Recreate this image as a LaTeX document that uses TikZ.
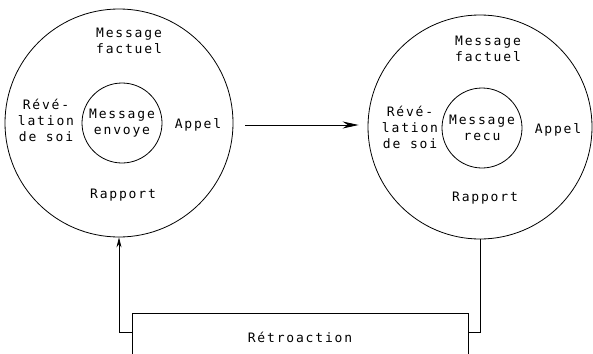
\documentclass[tikz,border=0pt]{standalone}
\usepackage{fontspec}
\setmainfont{DejaVu Sans Mono}[LetterSpace=14]
\usetikzlibrary{arrows.meta}

\begin{document}
\begin{tikzpicture}[x=1pt,y=-1pt,line width=0.8pt,
    txt/.style={font=\fontsize{13}{16}\selectfont,align=center,inner sep=0pt},
    ring/.style={draw,circle,minimum size=228pt},
    core/.style={draw,circle,minimum size=80pt,txt},
    flow/.style={-{Stealth[length=16pt,width=7pt]}},
    backflow/.style={-{Stealth[length=10pt,width=5pt]}}]
    \useasboundingbox (0,0) rectangle (593,353);
    \clip (0,0) rectangle (593,353);

    \node[ring] (sender) at (119,123) {};
    \node[core] (senderCore) at (122,123) {Message\\envoye};
    \node[txt] (senderFact) at (129,41) {Message\\factuel};
    \node[txt] (senderSelf) at (46,120) {Révé-\\lation\\de soi};
    \node[txt] (senderAppeal) at (198,125) {Appel};
    \node[txt] (senderRel) at (123,195) {Rapport};

    \node[ring,minimum size=224pt] (receiver) at (480,127) {};
    \node[core] (receiverCore) at (482,128) {Message\\recu};
    \node[txt] (receiverFact) at (488,49) {Message\\factuel};
    \node[txt] (receiverSelf) at (410,127) {Révé-\\lation\\de soi};
    \node[txt] (receiverAppeal) at (558,130) {Appel};
    \node[txt] (receiverRel) at (485,198) {Rapport};

    \node[draw,txt,minimum width=336pt,minimum height=48pt] (retro) at (300,337) {Rétroaction};

    \draw[flow] ([xshift=12pt,yshift=-2pt]sender.east) -- ([xshift=-9pt,yshift=-2pt]sender.east -| receiver.west);
    \draw (receiver.south) |- ([yshift=5pt]retro.east);
    \draw[backflow] ([yshift=5pt]retro.west) -| (sender.south);
\end{tikzpicture}
\end{document}
